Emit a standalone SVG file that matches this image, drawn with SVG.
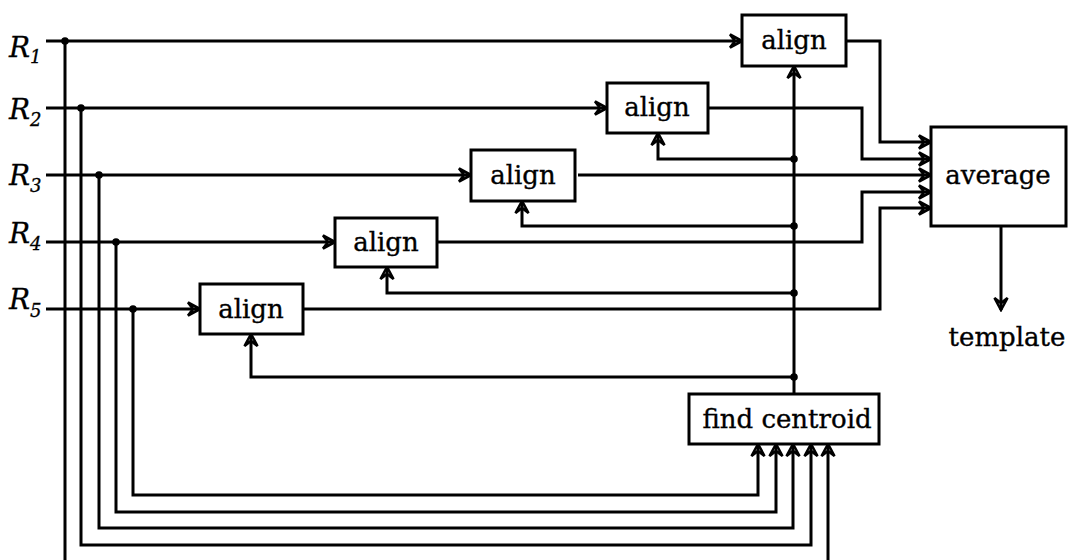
<svg xmlns="http://www.w3.org/2000/svg" width="1068" height="560" viewBox="0 0 1068 560">
  <style>
    .box { fill: #fff; stroke: #000; stroke-width: 3; }
    .lbl { font-family: "DejaVu Serif", "Liberation Serif", serif; font-size: 26px; fill: #000; stroke: #000; stroke-width: 0.35; text-anchor: middle; }
    .rl { font-family: "DejaVu Serif", "Liberation Serif", serif; font-size: 28px; font-style: italic; fill: #000; stroke: #000; stroke-width: 0.3; }
    .sub { font-size: 18px; }
    .wire { fill: none; stroke: #000; stroke-width: 3; stroke-linejoin: miter; }
    .arr { marker-end: url(#head); }
    .dot { fill: #000; }
  </style>
  <defs>
    <!-- notched open arrowhead, tip at the path end -->
    <marker id="head" viewBox="-15 -9 17 18" refX="0" refY="0" markerWidth="17" markerHeight="18" markerUnits="userSpaceOnUse" orient="auto">
      <path d="M0,0 L-12,-6.5 L-7,0 L-12,6.5 Z" fill="none" stroke="#000" stroke-width="2.6"/>
    </marker>
  </defs>

  <rect width="1068" height="560" fill="#fff"/>

  <!-- input labels -->
  <g id="inputs">
    <text class="rl" x="9" y="57">R<tspan class="sub" dy="6">1</tspan></text>
    <text class="rl" x="9" y="119">R<tspan class="sub" dy="7">2</tspan></text>
    <text class="rl" x="9" y="185">R<tspan class="sub" dy="7">3</tspan></text>
    <text class="rl" x="9" y="243">R<tspan class="sub" dy="7">4</tspan></text>
    <text class="rl" x="9" y="309">R<tspan class="sub" dy="8">5</tspan></text>
  </g>

  <!-- wiring -->
  <g id="connectors">
    <!-- inputs into the align stages -->
    <path class="wire arr" d="M46,41 H742"/>
    <path class="wire arr" d="M46,108 H607"/>
    <path class="wire arr" d="M46,175 H471"/>
    <path class="wire arr" d="M46,242 H335"/>
    <path class="wire arr" d="M46,309 H200"/>

    <!-- taps down to find centroid -->
    <path class="wire" d="M65,41 V560"/>
    <path class="wire arr" d="M828,560 V444"/>
    <path class="wire arr" d="M81,108 V545 H811 V444"/>
    <path class="wire arr" d="M99,175 V528 H793 V444"/>
    <path class="wire arr" d="M116,242 V512 H776 V444"/>
    <path class="wire arr" d="M133,309 V495 H758 V444"/>

    <!-- centroid fed back to each align -->
    <path class="wire arr" d="M794,394 V66"/>
    <path class="wire arr" d="M794,159 H658 V133"/>
    <path class="wire arr" d="M794,226 H522 V201"/>
    <path class="wire arr" d="M794,293 H387 V267"/>
    <path class="wire arr" d="M794,377 H251 V334"/>

    <!-- aligned outputs into average -->
    <path class="wire arr" d="M846,41 H880 V142 H931"/>
    <path class="wire arr" d="M708,108 H862 V159 H931"/>
    <path class="wire arr" d="M578,175 H931"/>
    <path class="wire arr" d="M437,242 H862 V192 H931"/>
    <path class="wire arr" d="M303,309 H880 V208 H931"/>

    <!-- result -->
    <path class="wire arr" d="M1001,226 V310"/>

    <!-- junctions -->
    <circle class="dot" cx="65" cy="41" r="3.8"/>
    <circle class="dot" cx="81" cy="108" r="3.8"/>
    <circle class="dot" cx="99" cy="175" r="3.8"/>
    <circle class="dot" cx="116" cy="242" r="3.8"/>
    <circle class="dot" cx="133" cy="309" r="3.8"/>
    <circle class="dot" cx="794" cy="159" r="3.8"/>
    <circle class="dot" cx="794" cy="226" r="3.8"/>
    <circle class="dot" cx="794" cy="293" r="3.8"/>
    <circle class="dot" cx="794" cy="377" r="3.8"/>
  </g>

  <g id="align1">
    <rect class="box" x="742" y="15" width="104" height="51"/>
    <text class="lbl" x="794" y="49">align</text>
  </g>
  <g id="align2">
    <rect class="box" x="607" y="83" width="101" height="50"/>
    <text class="lbl" x="657" y="116">align</text>
  </g>
  <g id="align3">
    <rect class="box" x="471" y="150" width="104" height="51"/>
    <text class="lbl" x="523" y="184">align</text>
  </g>
  <g id="align4">
    <rect class="box" x="335" y="218" width="102" height="49"/>
    <text class="lbl" x="386" y="251">align</text>
  </g>
  <g id="align5">
    <rect class="box" x="200" y="284" width="103" height="50"/>
    <text class="lbl" x="251" y="318">align</text>
  </g>
  <g id="average">
    <rect class="box" x="931" y="127" width="135" height="99"/>
    <text class="lbl" x="998" y="184">average</text>
  </g>
  <g id="find-centroid">
    <rect class="box" x="689" y="394" width="190" height="50"/>
    <text class="lbl" x="787" y="428">find centroid</text>
  </g>
  <g id="template">
    <text class="lbl" x="1007" y="346">template</text>
  </g>
</svg>
